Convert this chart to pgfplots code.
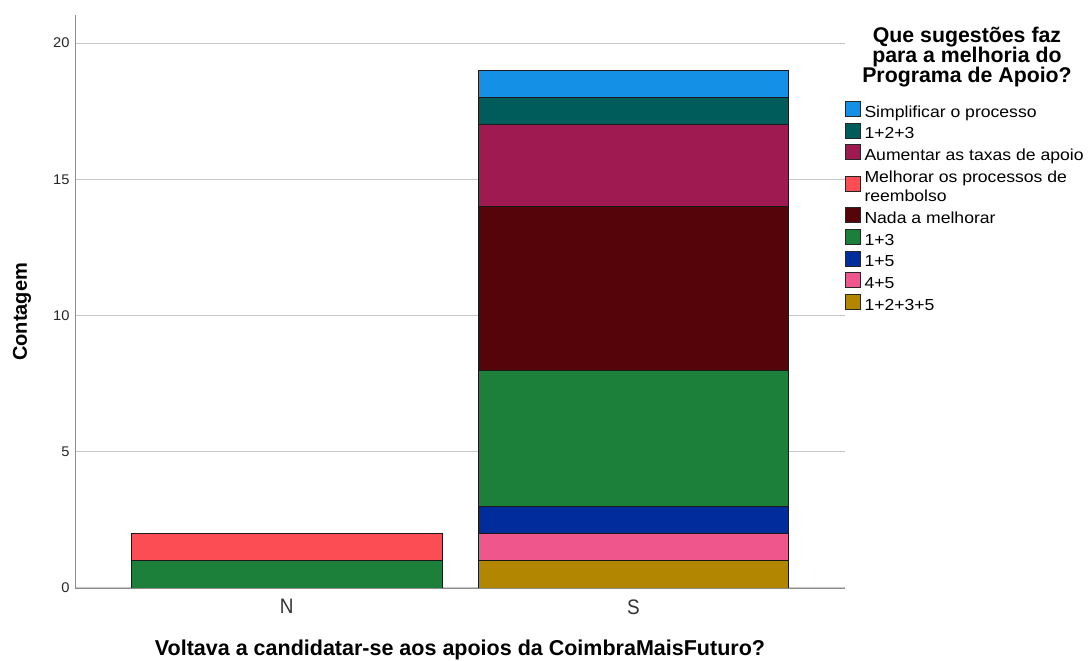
\documentclass[border=0pt]{standalone}
\usepackage{fontspec}
\setmainfont{Liberation Sans}
\newfontfamily\legfont{Liberation Sans}[FakeStretch=1.1]
\newfontfamily\tickfont{Liberation Sans}[FakeStretch=1.05]
\newfontfamily\catfont{Liberation Sans}[FakeStretch=0.9]
\usepackage{pgfplots}
\pgfplotsset{compat=1.18}
\pgfplotsset{
  box legend/.style={legend image code/.code={\draw[##1, draw=black!85, line width=0.8pt] (0pt,-4pt) rectangle (15pt,11pt);}},
  low box legend/.style={legend image code/.code={%
    \pgfpathrectangle{\pgfpoint{0pt}{-4pt}}{\pgfpoint{15pt}{15pt}}\pgfusepath{use as bounding box}%
    \draw[##1, draw=black!85, line width=0.8pt, overlay] (0pt,-14.5pt) rectangle (15pt,0.5pt);}},
}
\definecolor{cSimp}{HTML}{1490E6}
\definecolor{cOneTwoThree}{HTML}{005B5B}
\definecolor{cAum}{HTML}{9E1A50}
\definecolor{cMel}{HTML}{FC4D55}
\definecolor{cNada}{HTML}{55050A}
\definecolor{cOneThree}{HTML}{1D803A}
\definecolor{cOneFive}{HTML}{002C9C}
\definecolor{cFourFive}{HTML}{EE568C}
\definecolor{cAll}{HTML}{B38600}
\begin{document}
\begin{tikzpicture}[x=1pt,y=1pt]
\path[use as bounding box] (0,0) rectangle (1088,661);
\begin{axis}[
  at={(75pt,73pt)}, anchor=south west,
  scale only axis, width=770pt, height=573pt,
  ybar stacked, bar width=0.896,
  xmin=-0.61, xmax=1.61, ymin=0, ymax=21.03,
  xtick={0,1}, xticklabels={N,S},
  ytick={0,5,10,15,20},
  /pgf/number format/assume math mode=true,
  axis x line*=bottom, axis y line*=left,
  axis line style={draw=black!45, line width=0.8pt},
  x axis line style={-}, y axis line style={-},
  major tick length=0pt,
  ymajorgrids, grid style={draw=black!22, line width=1pt},
  yticklabel style={font=\tickfont\fontsize{14}{14}\selectfont, text=black!85, xshift=-2pt},
  xticklabel style={font=\catfont\fontsize{21}{21}\selectfont, text=black!80, yshift=-8pt},
  xlabel={\textbf{Voltava a candidatar-se aos apoios da CoimbraMaisFuturo?}},
  ylabel={\textbf{Contagem}},
  xlabel style={font=\fontsize{21.5}{21.5}\selectfont, at={(axis description cs:0.5,-0.108)}, anchor=center},
  ylabel style={font=\fontsize{20}{20}\selectfont, at={(axis description cs:-0.0688,0.4817)}, anchor=center},
  legend style={at={(axis description cs:1.0,0.851)}, anchor=north west, draw=none, fill=none,
    font=\legfont\fontsize{16}{17}\selectfont, row sep=2pt, inner sep=0pt,
    nodes={inner xsep=3.5pt, inner ysep=2pt}},
  legend cell align=left,
  reverse legend,
  box legend,
  every axis plot/.append style={draw=black!90, line width=0.8pt},
]
\addplot[fill=cAll] coordinates {(0,0) (1,1)};
\addlegendentry{1+2+3+5}
\addplot[fill=cFourFive] coordinates {(0,0) (1,1)};
\addlegendentry{4+5}
\addplot[fill=cOneFive] coordinates {(0,0) (1,1)};
\addlegendentry{1+5}
\addplot[fill=cOneThree] coordinates {(0,1) (1,5)};
\addlegendentry{1+3}
\addplot[fill=cNada] coordinates {(0,0) (1,6)};
\addlegendentry{Nada a melhorar}
\addlegendimage{empty legend}
\addlegendentry{reembolso}
\addplot[fill=cMel, low box legend] coordinates {(0,1) (1,0)};
\addlegendentry{Melhorar os processos de}
\addplot[fill=cAum] coordinates {(0,0) (1,3)};
\addlegendentry{Aumentar as taxas de apoio}
\addplot[fill=cOneTwoThree] coordinates {(0,0) (1,1)};
\addlegendentry{1+2+3}
\addplot[fill=cSimp] coordinates {(0,0) (1,1)};
\addlegendentry{Simplificar o processo}
\end{axis}
\node[font=\bfseries\fontsize{21.3}{20}\selectfont, align=center, anchor=north] at (967,637)
  {Que sugestões faz\\para a melhoria do\\Programa de Apoio?};
\end{tikzpicture}
\end{document}
